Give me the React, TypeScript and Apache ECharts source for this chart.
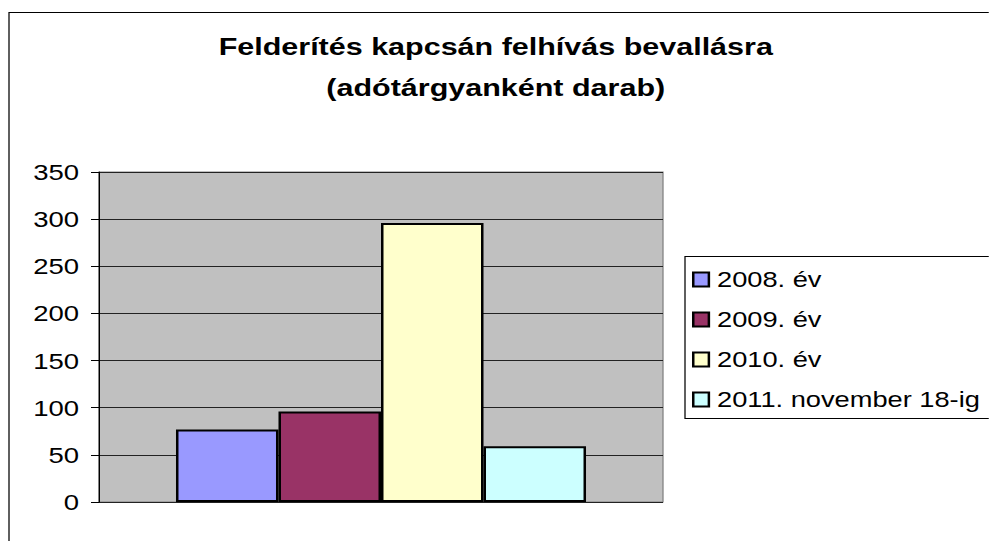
import React, { useEffect, useRef } from "react";
import * as echarts from "echarts";

const titleLines = ["Felderítés kapcsán felhívás bevallásra", "(adótárgyanként darab)"];
const categories = [""];
const seriesNames = ["2008. év", "2009. év", "2010. év", "2011. november 18-ig"];
const seriesValues = [[77], [96], [296], [59]];
const seriesColors = ["#9999FF", "#993366", "#FFFFCC", "#CCFFFF"];
const yTicks = { min: 0, max: 350, interval: 50 };

const SX = 1.25;
const W = 989 / SX;
const H = 541;

export default function App() {
  const ref = useRef<HTMLDivElement>(null);
  useEffect(() => {
    document.body.style.margin = "0";
    document.body.style.overflow = "hidden";
    if (!ref.current) return;
    const chart = echarts.init(ref.current, undefined, { renderer: "svg", width: W, height: H });
    const font = "'Liberation Sans', Arial, sans-serif";
    chart.setOption({
      animation: false,
      backgroundColor: "#ffffff",
      title: {
        text: titleLines.join("\n"),
        left: W / 2 - 4,
        top: 21,
        textAlign: "center",
        textStyle: { fontFamily: font, fontWeight: "bold", fontSize: 24.4, lineHeight: 41, color: "#000" },
      },
      graphic: [
        { type: "rect", z: -1, shape: { x: 7.2, y: 12.5, width: 1000, height: 1000 }, style: { fill: "none", stroke: "#000", lineWidth: 1 } },
        { type: "rect", z: 0, shape: { x: 548, y: 256.5, width: 400, height: 162 }, style: { fill: "#fff", stroke: "#000", lineWidth: 1 } },
      ],
      legend: {
        orient: "vertical",
        left: 553.6,
        top: 268.5,
        padding: 0,
        itemWidth: 12.5,
        itemHeight: 14,
        itemGap: 18,
        icon: "rect",
        z: 10,
        textStyle: { fontFamily: font, fontSize: 21.8, lineHeight: 21, color: "#000", padding: [0, 0, 0, 1.5] },
        data: seriesNames,
      },
      grid: {
        left: 79.2,
        right: W - 530.4,
        top: 172,
        bottom: H - 502,
        show: true,
        backgroundColor: "#C0C0C0",
        borderColor: "#808080",
        borderWidth: 1,
        containLabel: false,
      },
      xAxis: {
        type: "category",
        data: categories,
        axisLine: { show: false },
        axisTick: { show: false },
        axisLabel: { show: false },
      },
      yAxis: {
        type: "value",
        min: yTicks.min,
        max: yTicks.max,
        interval: yTicks.interval,
        axisLine: { show: true, lineStyle: { color: "#000", width: 1 } },
        axisTick: { show: true, inside: false, length: 6.4, lineStyle: { color: "#000" } },
        axisLabel: { fontFamily: font, fontSize: 22, color: "#000", margin: 16 },
        splitLine: { show: true, lineStyle: { color: "#222", width: 1 } },
      },
      series: seriesNames.map((name, i) => ({
        name,
        type: "bar",
        data: seriesValues[i],
        barGap: "0%",
        barCategoryGap: "27.3%",
        itemStyle: { color: seriesColors[i], borderColor: "#000", borderWidth: 2 },
      })),
    });
    return () => chart.dispose();
  }, []);
  return (
    <div
      ref={ref}
      style={{ width: W, height: H, transform: `scaleX(${SX})`, transformOrigin: "0 0" }}
    />
  );
}
